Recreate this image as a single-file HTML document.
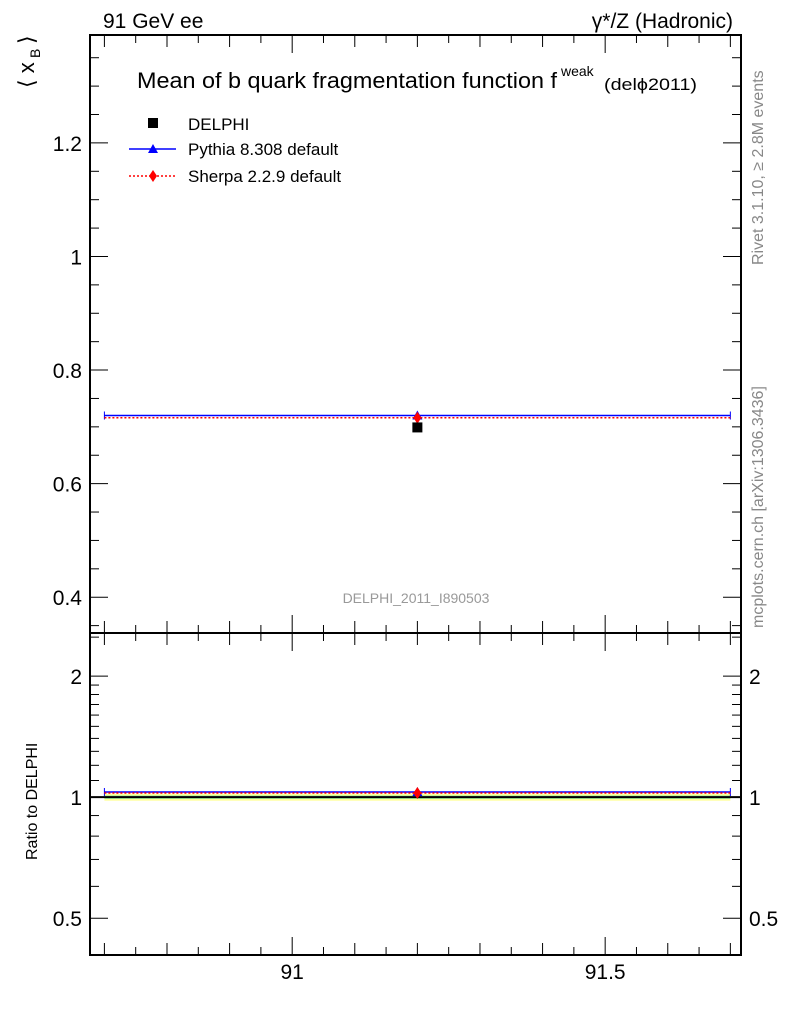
<!DOCTYPE html>
<html><head><meta charset="utf-8"><style>
body{margin:0;background:#fff;}
svg text{font-family:"Liberation Sans",sans-serif;}
</style></head><body>
<svg id="c" width="786" height="1024" xmlns="http://www.w3.org/2000/svg">
<rect width="786" height="1024" fill="#fff"/>
<g id="g"></g>
</svg>
<script>
const xCenters=[91.2];
const xLow=[90.7];
const xHigh=[91.7];
const delphiVals=[0.699];
const pythiaVals=[0.720];
const sherpaVals=[0.716];
const xTickLabels=["91","91.5"];
const xTickVals=[91,91.5];
const mainYTicks=[0.4,0.6,0.8,1,1.2];
const ratioYTicks=[0.5,1,2];
const ratioYLabels=["0.5","1","2"];

const L=90,R=741,T=35,M=633,B=955;
const X0=90.677,X1=91.717;
const Y0=0.337,Y1=1.39;
const RY0=0.405,RY1=2.56;
const sx=v=>L+(v-X0)/(X1-X0)*(R-L);
const sy=v=>M-(v-Y0)/(Y1-Y0)*(M-T);
const sr=v=>B-(Math.log(v)-Math.log(RY0))/(Math.log(RY1)-Math.log(RY0))*(B-M);
const g=document.getElementById('g');
const NS="http://www.w3.org/2000/svg";
function el(tag,attrs,name,text){const e=document.createElementNS(NS,tag);for(const k in attrs)e.setAttribute(k,attrs[k]);


if(text!==undefined)e.textContent=text;g.appendChild(e);return e;}
function line(x1,y1,x2,y2,name,st){return el('line',Object.assign({x1,y1,x2,y2,stroke:'#000','stroke-width':1},st||{}),name);}
function txt(x,y,s,name,st){return el('text',Object.assign({x,y,'font-size':21,fill:'#000'},st||{}),name,s);}

// ratio bands
el('rect',{x:sx(xLow[0]),y:sr(1.02),width:sx(xHigh[0])-sx(xLow[0]),height:sr(0.98)-sr(1.02),fill:'#ffff99'},'ratio-band-total');
el('rect',{x:sx(xLow[0]),y:sr(1.01),width:sx(xHigh[0])-sx(xLow[0]),height:sr(0.99)-sr(1.01),fill:'#99ee99'},'ratio-band-stat');

// frames
el('rect',{x:L,y:T,width:R-L,height:M-T,fill:'none',stroke:'#000','stroke-width':2},'main-frame');
el('rect',{x:L,y:M,width:R-L,height:B-M,fill:'none',stroke:'#000','stroke-width':2},'ratio-frame');

// x ticks
for(let i=0;i<=20;i++){const v=90.7+i*0.05;if(v>X1)break;const x=sx(v);
 const maj=xTickVals.some(t=>Math.abs(t-v)<1e-6);const mid=Math.abs(Math.round(v*10)-v*10)<1e-6;
 const len=maj?18:(mid?12:8);
 line(x,T,x,T+len,'main-x-tick-top');line(x,M,x,M-len,'main-x-tick-bottom');
 line(x,M,x,M+len,'ratio-x-tick-top');line(x,B,x,B-len,'ratio-x-tick-bottom');}
xTickVals.forEach((v,i)=>txt(sx(v),979,xTickLabels[i],'x-tick-label',{'text-anchor':'middle'}));

// main y ticks
for(let v=0.35;v<=Y1+1e-6;v+=0.05){const y=sy(v);const maj=mainYTicks.some(t=>Math.abs(t-v)<1e-6);const len=maj?18:9;
 line(L,y,L+len,y,'main-y-tick-left');line(R,y,R-len,y,'main-y-tick-right');}
mainYTicks.forEach(v=>txt(82,sy(v)+8,String(v),'main-y-tick-label',{'text-anchor':'end'}));

// ratio y ticks (log)
for(let v=0.5;v<=2.5+1e-6;v+=(v<2-1e-6?0.1:0.5)){const y=sr(v);const maj=ratioYTicks.some(t=>Math.abs(t-v)<1e-6);const len=maj?18:9;
 line(L,y,L+len,y,'ratio-y-tick-left');line(R,y,R-len,y,'ratio-y-tick-right');}
ratioYTicks.forEach((v,i)=>{txt(82,sr(v)+8,ratioYLabels[i],'ratio-y-tick-label-left',{'text-anchor':'end'});txt(749,sr(v)+8,ratioYLabels[i],'ratio-y-tick-label-right');});
line(L,sr(1),R,sr(1),'ratio-unity-line',{'stroke-width':2});

// series
xCenters.forEach((c,i)=>{
 const x1=sx(xLow[i]),x2=sx(xHigh[i]),xc=sx(c);
 let y=sy(pythiaVals[i]);line(x1,y,x2,y,'pythia-line',{stroke:'#0000ff','stroke-width':1.5});
 line(x1,y-4,x1,y+4,'pythia-cap',{stroke:'#0000ff'});line(x2,y-4,x2,y+4,'pythia-cap',{stroke:'#0000ff'});
 el('polygon',{points:`${xc-5},${y+4} ${xc+5},${y+4} ${xc},${y-5}`,fill:'#0000ff'},'pythia-marker');
 y=sy(sherpaVals[i]);line(x1,y,x2,y,'sherpa-line',{stroke:'#ff0000','stroke-width':1.5,'stroke-dasharray':'2,2'});
 el('polygon',{points:`${xc},${y-6} ${xc+4},${y} ${xc},${y+6} ${xc-4},${y}`,fill:'#ff0000'},'sherpa-marker');
 y=sy(delphiVals[i]);el('rect',{x:xc-5,y:y-5,width:10,height:10,fill:'#000'},'delphi-marker');
 let r=sr(pythiaVals[i]/delphiVals[i]);line(x1,r,x2,r,'pythia-ratio-line',{stroke:'#0000ff','stroke-width':1.5});
 line(x1,r-4,x1,r+4,'pythia-ratio-cap',{stroke:'#0000ff'});line(x2,r-4,x2,r+4,'pythia-ratio-cap',{stroke:'#0000ff'});
 el('polygon',{points:`${xc-5},${r+4} ${xc+5},${r+4} ${xc},${r-5}`,fill:'#0000ff'},'pythia-ratio-marker');
 r=sr(sherpaVals[i]/delphiVals[i]);line(x1,r,x2,r,'sherpa-ratio-line',{stroke:'#ff0000','stroke-width':1.5,'stroke-dasharray':'2,2'});
 el('polygon',{points:`${xc},${r-6} ${xc+4},${r} ${xc},${r+6} ${xc-4},${r}`,fill:'#ff0000'},'sherpa-ratio-marker');
});

// texts
txt(103,28,'91 GeV ee','energy-label');
txt(733,28,'γ*/Z (Hadronic)','process-label',{'text-anchor':'end'});
txt(137,88,'Mean of b quark fragmentation function f','plot-title',{'font-size':22,textLength:420,lengthAdjust:'spacingAndGlyphs'});
txt(561,76,'weak','title-superscript',{'font-size':14});
txt(604,90,'(delϕ2011)','title-suffix',{'font-size':17,textLength:93,lengthAdjust:'spacingAndGlyphs'});
txt(416,603,'DELPHI_2011_I890503','analysis-id',{'font-size':14,fill:'#999','text-anchor':'middle'});
txt(0,0,'Rivet 3.1.10, ≥ 2.8M events','rivet-label',{'font-size':16,fill:'#888',transform:'translate(763,265) rotate(-90)'});
txt(0,0,'mcplots.cern.ch [arXiv:1306.3436]','mcplots-label',{'font-size':16,fill:'#888',transform:'translate(763,628) rotate(-90)'});
txt(0,0,'⟨ x','y-axis-title',{'font-size':22,transform:'translate(34,88) rotate(-90)'});
txt(0,0,'B','y-axis-title-sub',{'font-size':14,transform:'translate(40,58) rotate(-90)'});
txt(0,0,'⟩','y-axis-title-end',{'font-size':22,transform:'translate(34,44) rotate(-90)'});
txt(0,0,'Ratio to DELPHI','ratio-y-axis-title',{'font-size':16,transform:'translate(37,860) rotate(-90)'});

// legend
el('rect',{x:148,y:118,width:10,height:10,fill:'#000'},'legend-delphi-marker');
txt(188,130,'DELPHI','legend-delphi-label',{'font-size':17});
line(129,149,176,149,'legend-pythia-line',{stroke:'#0000ff','stroke-width':1.5});
el('polygon',{points:'148,153 158,153 153,144',fill:'#0000ff'},'legend-pythia-marker');
txt(188,155,'Pythia 8.308 default','legend-pythia-label',{'font-size':17});
line(129,176,176,176,'legend-sherpa-line',{stroke:'#ff0000','stroke-width':1.5,'stroke-dasharray':'2,2'});
el('polygon',{points:'153,170 157,176 153,182 149,176',fill:'#ff0000'},'legend-sherpa-marker');
txt(188,182,'Sherpa 2.2.9 default','legend-sherpa-label',{'font-size':17});
</script>
</body></html>
